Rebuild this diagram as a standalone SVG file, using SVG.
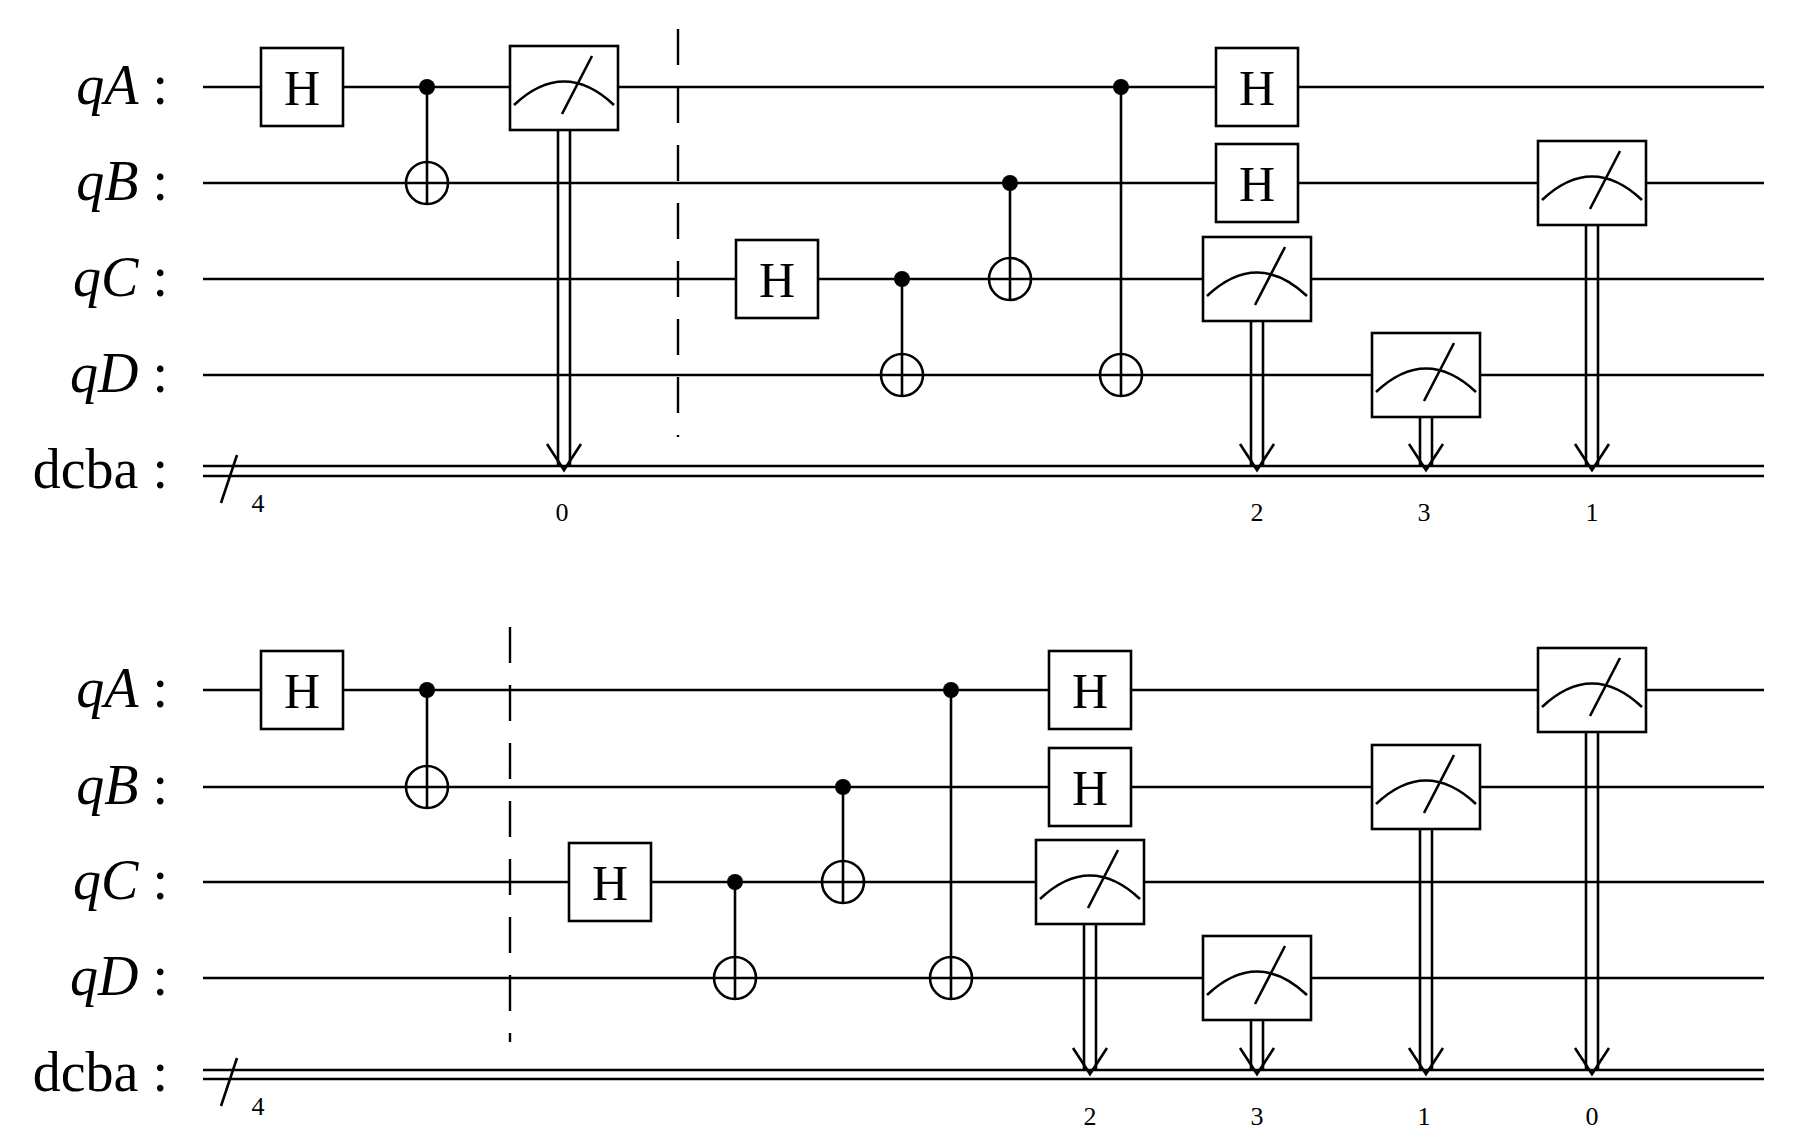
<svg xmlns="http://www.w3.org/2000/svg" xmlns:xlink="http://www.w3.org/1999/xlink" width="1795" height="1140" viewBox="0 0 1795 1140">
<style>
.w{stroke:#000;stroke-width:2.6;fill:none}
.lbl{font-family:"Liberation Serif",serif;font-size:56px;fill:#000}
.it{font-style:italic}
.h{font-family:"Liberation Serif",serif;font-size:50px;fill:#000;text-anchor:middle}
.n{font-family:"Liberation Serif",serif;font-size:26px;fill:#000;text-anchor:middle}
.bar{stroke:#000;stroke-width:2.4;stroke-dasharray:36 22;fill:none}
</style>
<defs>
<g id="meter">
<rect x="-54" y="-42" width="108" height="84" fill="#fff" stroke="#000" stroke-width="2.6"/>
<path d="M -50 17 Q 0 -30 50 17" class="w"/>
<path d="M -2 26 L 28 -32" class="w"/>
</g>
<g id="hg">
<rect x="-41" y="-39" width="82" height="78" fill="#fff" stroke="#000" stroke-width="2.6"/>
<text x="0" y="18" class="h">H</text>
</g>
<g id="tgt"><circle r="21" fill="#fff" stroke="#000" stroke-width="2.6"/><path d="M-21 0H21M0 -21V21" class="w"/></g>
<g id="arr"><path d="M -17 -26 L 0 0 L 17 -26" class="w"/></g>
</defs>

<g id="labels">
<text x="168" y="104" class="lbl" text-anchor="end"><tspan class="it">qA</tspan> :</text>
<text x="168" y="200" class="lbl" text-anchor="end"><tspan class="it">qB</tspan> :</text>
<text x="168" y="296" class="lbl" text-anchor="end"><tspan class="it">qC</tspan> :</text>
<text x="168" y="392" class="lbl" text-anchor="end"><tspan class="it">qD</tspan> :</text>
<text x="168" y="488" class="lbl" text-anchor="end">dcba :</text>
<text x="168" y="707" class="lbl" text-anchor="end"><tspan class="it">qA</tspan> :</text>
<text x="168" y="804" class="lbl" text-anchor="end"><tspan class="it">qB</tspan> :</text>
<text x="168" y="899" class="lbl" text-anchor="end"><tspan class="it">qC</tspan> :</text>
<text x="168" y="995" class="lbl" text-anchor="end"><tspan class="it">qD</tspan> :</text>
<text x="168" y="1091" class="lbl" text-anchor="end">dcba :</text>
</g>

<g id="connectors">
<path class="w" d="M203 87H1764M203 183H1764M203 279H1764M203 375H1764M203 466H1764M203 476H1764"/>
<path class="w" d="M221 503L237 455"/>
<path class="w" d="M203 690H1764M203 787H1764M203 882H1764M203 978H1764M203 1070H1764M203 1079H1764"/>
<path class="w" d="M221 1106L237 1058"/>
<line class="bar" x1="678" y1="29" x2="678" y2="437"/>
<line class="bar" x1="510" y1="627" x2="510" y2="1042"/>
<path class="w" d="M427 87V204M902 279V396M1010 183V300M1121 87V396"/>
<path class="w" d="M427 690V808M735 882V999M843 787V903M951 690V999"/>
<path class="w" d="M558 131V466M570 131V466M1251 321V466M1263 321V466M1420 417V466M1432 417V466M1586 225V466M1598 225V466"/>
<path class="w" d="M1084 924V1070M1096 924V1070M1251 1020V1070M1263 1020V1070M1420 829V1070M1432 829V1070M1586 732V1070M1598 732V1070"/>
</g>

<g id="top-gates">
<use href="#hg" transform="translate(302,87)"/>
<circle cx="427" cy="87" r="8"/>
<use href="#tgt" transform="translate(427,183)"/>
<use href="#meter" transform="translate(564,88)"/>
<use href="#arr" transform="translate(564,470)"/>
<use href="#hg" transform="translate(777,279)"/>
<circle cx="902" cy="279" r="8"/>
<use href="#tgt" transform="translate(902,375)"/>
<circle cx="1010" cy="183" r="8"/>
<use href="#tgt" transform="translate(1010,279)"/>
<circle cx="1121" cy="87" r="8"/>
<use href="#tgt" transform="translate(1121,375)"/>
<use href="#hg" transform="translate(1257,87)"/>
<use href="#hg" transform="translate(1257,183)"/>
<use href="#meter" transform="translate(1257,279)"/>
<use href="#arr" transform="translate(1257,470)"/>
<use href="#meter" transform="translate(1426,375)"/>
<use href="#arr" transform="translate(1426,470)"/>
<use href="#meter" transform="translate(1592,183)"/>
<use href="#arr" transform="translate(1592,470)"/>
<text x="258" y="512" class="n">4</text>
<text x="562" y="521" class="n">0</text>
<text x="1257" y="521" class="n">2</text>
<text x="1424" y="521" class="n">3</text>
<text x="1592" y="521" class="n">1</text>
</g>

<g id="bottom-gates">
<use href="#hg" transform="translate(302,690)"/>
<circle cx="427" cy="690" r="8"/>
<use href="#tgt" transform="translate(427,787)"/>
<use href="#hg" transform="translate(610,882)"/>
<circle cx="735" cy="882" r="8"/>
<use href="#tgt" transform="translate(735,978)"/>
<circle cx="843" cy="787" r="8"/>
<use href="#tgt" transform="translate(843,882)"/>
<circle cx="951" cy="690" r="8"/>
<use href="#tgt" transform="translate(951,978)"/>
<use href="#hg" transform="translate(1090,690)"/>
<use href="#hg" transform="translate(1090,787)"/>
<use href="#meter" transform="translate(1090,882)"/>
<use href="#arr" transform="translate(1090,1074)"/>
<use href="#meter" transform="translate(1257,978)"/>
<use href="#arr" transform="translate(1257,1074)"/>
<use href="#meter" transform="translate(1426,787)"/>
<use href="#arr" transform="translate(1426,1074)"/>
<use href="#meter" transform="translate(1592,690)"/>
<use href="#arr" transform="translate(1592,1074)"/>
<text x="258" y="1115" class="n">4</text>
<text x="1090" y="1125" class="n">2</text>
<text x="1257" y="1125" class="n">3</text>
<text x="1424" y="1125" class="n">1</text>
<text x="1592" y="1125" class="n">0</text>
</g>
</svg>
